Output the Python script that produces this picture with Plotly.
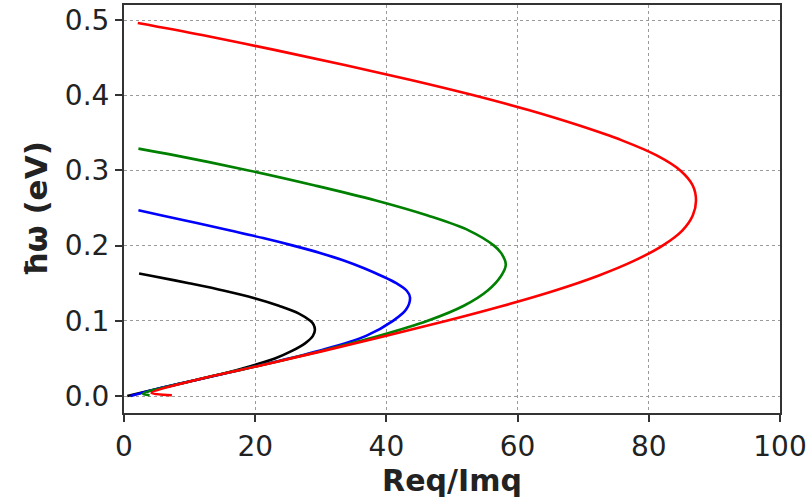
import plotly.graph_objects as go

# Data (x = Re q / Im q, y = ħω in eV)
black_x = [0.5, 5.3, 10.3, 15.2, 19.4, 23.0, 25.6, 27.6, 28.8, 29.1, 28.9, 28.4, 26.6, 23.6, 19.9, 15.3, 9.9, 4.1, 2.3]
black_y = [0.000, 0.010, 0.020, 0.030, 0.040, 0.050, 0.060, 0.070, 0.080, 0.088, 0.095, 0.100, 0.110, 0.120, 0.130, 0.140, 0.150, 0.160, 0.163]

blue_x = [1.0, 5.3, 10.3, 20.3, 29.6, 36.9, 41.0, 43.0, 43.6, 43.1, 41.5, 39.2, 36.6, 33.6, 30.0, 25.8, 21.2, 16.2, 11.1, 5.8, 2.2]
blue_y = [0.000, 0.010, 0.020, 0.040, 0.060, 0.080, 0.100, 0.115, 0.131, 0.140, 0.150, 0.160, 0.170, 0.180, 0.190, 0.200, 0.210, 0.220, 0.230, 0.240, 0.247]

green_x = [3.9, 2.9, 10.3, 20.4, 30.1, 38.9, 46.3, 51.8, 55.4, 57.5, 58.2, 57.5, 56.4, 52.6, 46.3, 38.4, 29.1, 19.0, 7.8, 2.2]
green_y = [0.001, 0.003, 0.020, 0.040, 0.060, 0.080, 0.100, 0.120, 0.140, 0.160, 0.175, 0.190, 0.200, 0.220, 0.240, 0.260, 0.280, 0.300, 0.320, 0.329]

red_x = [7.3, 4.2, 10.3, 20.5, 30.4, 40.0, 49.2, 57.8, 65.6, 72.3, 77.8, 82.1, 85.1, 86.7, 87.2, 86.7, 84.8, 81.2, 75.9, 69.3, 61.8, 53.3, 43.9, 33.8, 23.1, 11.9, 2.1]
red_y = [0.001, 0.004, 0.020, 0.040, 0.060, 0.080, 0.100, 0.120, 0.140, 0.160, 0.180, 0.200, 0.220, 0.240, 0.260, 0.280, 0.300, 0.320, 0.340, 0.360, 0.380, 0.400, 0.420, 0.440, 0.460, 0.480, 0.496]

x_ticks = [0, 20, 40, 60, 80, 100]
y_ticks = [0.0, 0.1, 0.2, 0.3, 0.4, 0.5]
y_tick_text = ["0.0", "0.1", "0.2", "0.3", "0.4", "0.5"]

series = [
    (black_x, black_y, "#000000"),
    (blue_x, blue_y, "#0000ff"),
    (green_x, green_y, "#008000"),
    (red_x, red_y, "#ff0000"),
]

fig = go.Figure()
for xs, ys, col in series:
    fig.add_trace(go.Scatter(x=xs, y=ys, mode="lines",
                             line=dict(color=col, width=2.6, shape="spline", smoothing=1.0),
                             showlegend=False, hoverinfo="skip"))

font_family = "DejaVu Sans"
fig.update_layout(
    width=810, height=501,
    margin=dict(l=124, r=30, t=5, b=88),
    paper_bgcolor="white", plot_bgcolor="white",
    font=dict(family=font_family, size=28, color="#222222"),
    showlegend=False,
)
fig.update_xaxes(
    range=[0, 100], tickvals=x_ticks, ticks="outside", ticklen=7, tickwidth=1.5, tickcolor="#333333",
    showline=True, linecolor="#333333", linewidth=2, mirror=True,
    showgrid=True, gridcolor="#9a9a9a", gridwidth=1, griddash="dot",
    zeroline=False,
    tickfont=dict(size=28, family=font_family, color="#222222"),
    title=dict(text="<b>Req/Imq</b>", font=dict(size=30, family=font_family, color="#222222"), standoff=6),
    automargin=False,
)
fig.update_yaxes(
    range=[-0.0226, 0.52], tickvals=y_ticks, ticktext=y_tick_text, ticks="outside", ticklen=7, tickwidth=1.5, tickcolor="#333333",
    showline=True, linecolor="#333333", linewidth=2, mirror=True,
    showgrid=True, gridcolor="#9a9a9a", gridwidth=1, griddash="dot",
    zeroline=False,
    tickfont=dict(size=28, family=font_family, color="#222222"),
    title=dict(text="<b>ħω (eV)</b>", font=dict(size=31, family=font_family, color="#222222"), standoff=8),
    automargin=False,
)

fig.write_html("out.html")
